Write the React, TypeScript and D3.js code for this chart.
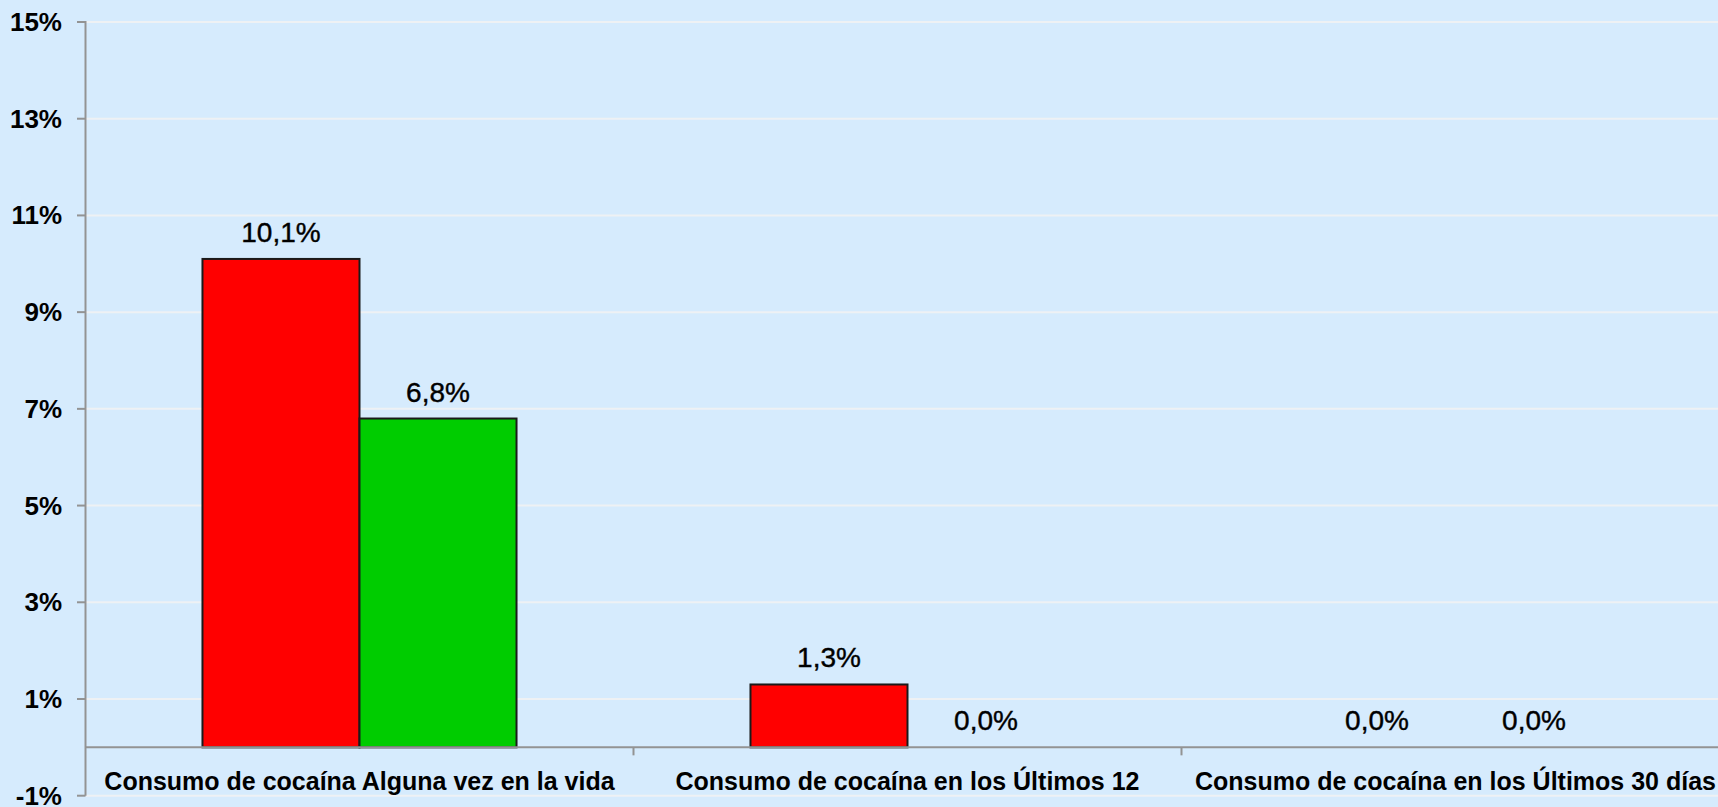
import React from "react";
import * as d3 from "d3";

const categories = [
  "Consumo de cocaína Alguna vez en la vida",
  "Consumo de cocaína en los Últimos 12",
  "Consumo de cocaína en los Últimos 30 días",
];
const seriesNames = ["Serie A", "Serie B"];
const seriesA = [10.1, 1.3, 0.0];
const seriesB = [6.8, 0.0, 0.0];
const yTicks = [-1, 1, 3, 5, 7, 9, 11, 13, 15];
const seriesColors = ["#FF0000", "#00CC00"];

const W = 1718;
const H = 807;
const FONT = "'Liberation Sans', Arial, sans-serif";

export default function App() {
  const left = 85.5;
  const bandW = 548;
  const x0 = d3
    .scaleBand<string>()
    .domain(categories)
    .range([left, left + bandW * categories.length])
    .padding(0);
  const x1 = d3
    .scaleBand<string>()
    .domain(seriesNames)
    .range([0, x0.bandwidth()])
    .paddingInner(0)
    .paddingOuter(0.745);
  const y = d3.scaleLinear().domain([-1, 15]).range([795.7, 22]);
  const values = [seriesA, seriesB];
  const fmt = (v: number) => v.toFixed(1).replace(".", ",") + "%";

  return (
    <svg
      width={W}
      height={H}
      style={{ position: "fixed", left: 0, top: 0, display: "block" }}
    >
      <rect x={0} y={0} width={W} height={H} fill="#D6EBFD" />
      {yTicks.map((t) => (
        <line
          key={"g" + t}
          x1={left}
          x2={W}
          y1={y(t)}
          y2={y(t)}
          stroke="#EEF1F4"
          strokeWidth={2}
        />
      ))}
      {yTicks.map((t) => (
        <g key={"t" + t}>
          <line x1={77} x2={left} y1={y(t)} y2={y(t)} stroke="#939393" strokeWidth={2} />
          <text
            x={62}
            y={y(t) + 9}
            textAnchor="end"
            fontFamily={FONT}
            fontWeight="bold"
            fontSize={26}
            fill="#000"
          >
            {t + "%"}
          </text>
        </g>
      ))}
      {categories.map((c, ci) =>
        seriesNames.map((s, si) => {
          const v = values[si][ci];
          const bx = (x0(c) as number) + (x1(s) as number);
          const bw = x1.bandwidth();
          return (
            <g key={c + s}>
              {v > 0 && (
                <rect
                  x={bx}
                  y={y(v)}
                  width={bw}
                  height={y(0) - y(v)}
                  fill={seriesColors[si]}
                  stroke="#1a1a1a"
                  strokeWidth={2}
                />
              )}
              <text
                x={bx + bw / 2}
                y={y(v) - 17}
                textAnchor="middle"
                fontFamily={FONT}
                fontSize={28}
                fill="#000"
                stroke="#000"
                strokeWidth={0.4}
              >
                {fmt(v)}
              </text>
            </g>
          );
        })
      )}
      <line x1={left} x2={left} y1={y(15) - 1} y2={y(-1)} stroke="#939393" strokeWidth={2} />
      <line x1={left} x2={W} y1={y(0)} y2={y(0)} stroke="#939393" strokeWidth={2} />
      {categories.slice(1).map((c) => (
        <line
          key={"ct" + c}
          x1={x0(c) as number}
          x2={x0(c) as number}
          y1={y(0)}
          y2={y(0) + 8}
          stroke="#939393"
          strokeWidth={2}
        />
      ))}
      {categories.map((c) => (
        <text
          key={"cl" + c}
          x={(x0(c) as number) + x0.bandwidth() / 2}
          y={790}
          textAnchor="middle"
          fontFamily={FONT}
          fontWeight="bold"
          fontSize={25}
          fill="#000"
        >
          {c}
        </text>
      ))}
    </svg>
  );
}
